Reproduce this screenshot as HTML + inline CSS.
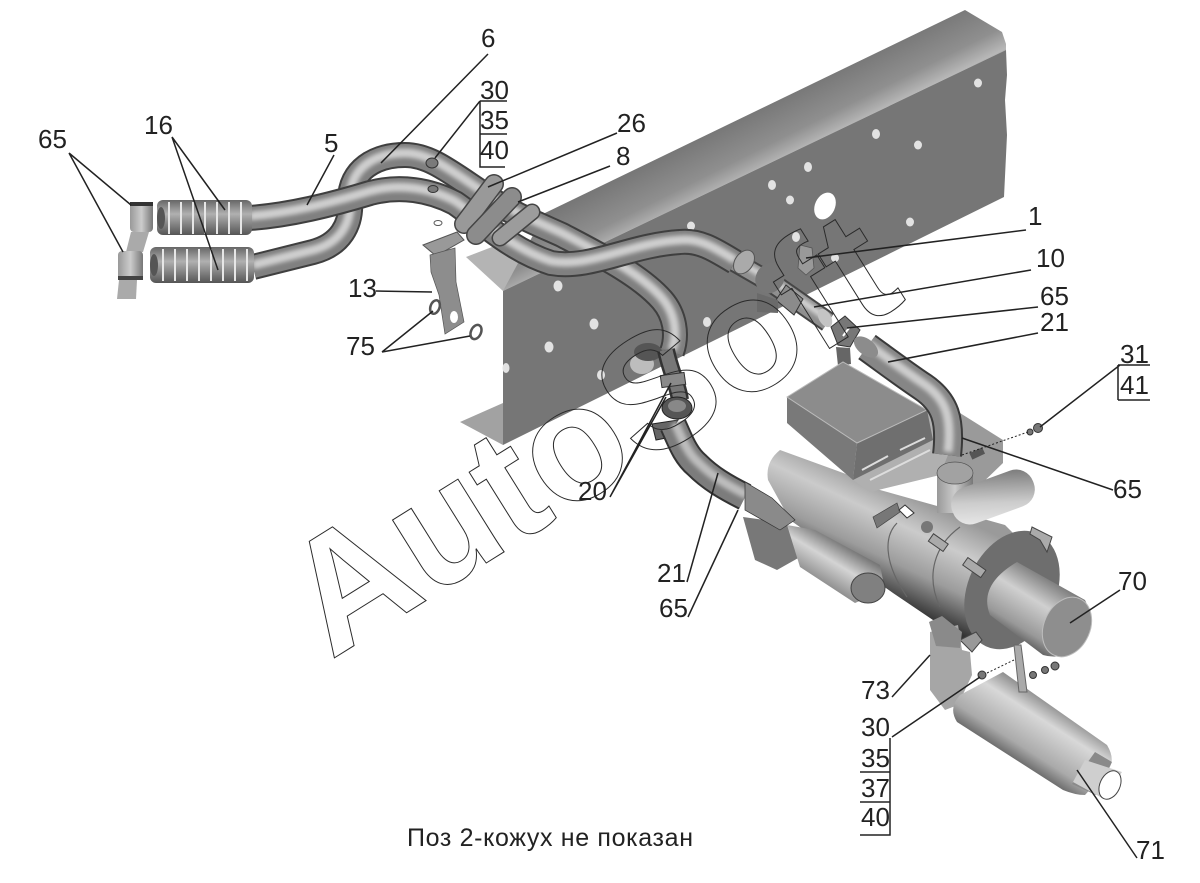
<!DOCTYPE html>
<html><head><meta charset="utf-8"><title>Схема</title>
<style>
html,body{margin:0;padding:0;background:#fff;width:1200px;height:883px;overflow:hidden}
svg{display:block}
.t{font-family:"Liberation Sans",sans-serif;font-size:26px;fill:#222}
.l{stroke:#222;stroke-width:1.5;fill:none}
</style></head><body>
<svg width="1200" height="883" viewBox="0 0 1200 883" xmlns="http://www.w3.org/2000/svg">
<defs>
<filter id="bl" x="-20%" y="-20%" width="140%" height="140%"><feGaussianBlur stdDeviation="2.2"/></filter>
<linearGradient id="fl" gradientUnits="userSpaceOnUse" x1="745" y1="115" x2="775" y2="175"><stop offset="0" stop-color="#777"/><stop offset=".55" stop-color="#8f8f8f"/><stop offset=".85" stop-color="#b8b8b8"/><stop offset="1" stop-color="#808080"/></linearGradient>
<linearGradient id="body" gradientUnits="userSpaceOnUse" x1="880" y1="480" x2="835" y2="575"><stop offset="0" stop-color="#9a9a9a"/><stop offset=".3" stop-color="#cbcbcb"/><stop offset=".65" stop-color="#9c9c9c"/><stop offset=".9" stop-color="#505050"/><stop offset="1" stop-color="#333"/></linearGradient>
<linearGradient id="g70" gradientUnits="userSpaceOnUse" x1="1045" y1="575" x2="1005" y2="640"><stop offset="0" stop-color="#7a7a7a"/><stop offset=".35" stop-color="#d0d0d0"/><stop offset=".75" stop-color="#999"/><stop offset="1" stop-color="#444"/></linearGradient>
<linearGradient id="sil" gradientUnits="userSpaceOnUse" x1="1050" y1="695" x2="1005" y2="765"><stop offset="0" stop-color="#777"/><stop offset=".3" stop-color="#d8d8d8"/><stop offset=".7" stop-color="#aaa"/><stop offset="1" stop-color="#444"/></linearGradient>
<linearGradient id="mot" gradientUnits="userSpaceOnUse" x1="845" y1="545" x2="815" y2="595"><stop offset="0" stop-color="#777"/><stop offset=".35" stop-color="#d4d4d4"/><stop offset=".8" stop-color="#888"/><stop offset="1" stop-color="#333"/></linearGradient>
<linearGradient id="pill" gradientUnits="userSpaceOnUse" x1="1005" y1="470" x2="985" y2="530"><stop offset="0" stop-color="#777"/><stop offset=".55" stop-color="#ccc"/><stop offset="1" stop-color="#eee"/></linearGradient>
<linearGradient id="h" x1="0" y1="0" x2="1" y2="0"><stop offset="0" stop-color="#999"/><stop offset=".5" stop-color="#ccc"/><stop offset="1" stop-color="#777"/></linearGradient>
<linearGradient id="cor1" x1="0" y1="0" x2="0" y2="1"><stop offset="0" stop-color="#666"/><stop offset=".4" stop-color="#b0b0b0"/><stop offset="1" stop-color="#555"/></linearGradient>
<path id="a" d="M253 267L313 252C340 245 352 225 350 200C350 170 375 155 405 155C430 155 450 172 488 197C510 213 540 225 562 235C600 255 640 275 662 300C675 315 678 335 672 352"/>
<path id="b" d="M250 218C290 215 330 205 370 193C400 185 430 190 455 203C480 220 510 250 551 263C590 270 630 245 680 242C700 240 715 250 735 262"/>
<path id="c" d="M867 347C885 360 905 375 923 387C945 402 951 420 947 455"/>
<path id="d" d="M673 425C680 440 685 455 697 465C710 478 725 487 745 497"/>
<path id="e" d="M735 262L775 285L828 322"/>
</defs>
<rect width="1200" height="883" fill="#fff"/>

<!-- frame rail -->
<polygon points="460,422 503,403 503,445" fill="#a2a2a2"/>
<polygon points="466,257 492,247 560,262 503,291" fill="#b4b4b4"/>
<polygon points="965,10 1002,32 1006,44 1006,50 503,291 545,213" fill="url(#fl)"/>
<polygon points="1006,50 1007,75 1005,100 1007,135 1004,197 503,445 503,291" fill="#767676"/>
<g fill="#e2e2e2">
<ellipse cx="978" cy="83" rx="4" ry="4.5"/><ellipse cx="876" cy="134" rx="4" ry="5"/><ellipse cx="918" cy="145" rx="4" ry="4.5"/><ellipse cx="808" cy="167" rx="4" ry="5"/><ellipse cx="772" cy="185" rx="4" ry="5"/><ellipse cx="790" cy="200" rx="4" ry="4.5"/>
<ellipse cx="825" cy="206" rx="10" ry="14" transform="rotate(25 825 206)" fill="#fff"/>
<ellipse cx="691" cy="226" rx="4" ry="4.5"/><ellipse cx="910" cy="222" rx="4" ry="4.5"/><ellipse cx="796" cy="237" rx="4" ry="5"/><ellipse cx="558" cy="286" rx="4.5" ry="5.5"/><ellipse cx="594" cy="324" rx="4.5" ry="5.5"/><ellipse cx="707" cy="322" rx="4" ry="5"/><ellipse cx="549" cy="347" rx="4.5" ry="5.5"/><ellipse cx="601" cy="375" rx="4" ry="5"/><ellipse cx="506" cy="368" rx="3.5" ry="5"/><ellipse cx="835" cy="258" rx="4" ry="4"/>
<ellipse cx="642" cy="364" rx="12" ry="10" fill="#bdbdbd"/>
</g>
<ellipse cx="648" cy="352" rx="14" ry="9" fill="#555"/>

<!-- tubes -->
<g fill="none" stroke-linecap="butt">
<use href="#a" stroke="#3f3f3f" stroke-width="26"/><use href="#a" stroke="#808080" stroke-width="22"/><use href="#a" stroke="#cfcfcf" stroke-width="9" filter="url(#bl)" transform="translate(0,-2)"/>
<use href="#b" stroke="#3f3f3f" stroke-width="26"/><use href="#b" stroke="#808080" stroke-width="22"/><use href="#b" stroke="#cfcfcf" stroke-width="9" filter="url(#bl)" transform="translate(0,-2)"/>
<use href="#e" stroke="#444" stroke-width="21"/><use href="#e" stroke="#8f8f8f" stroke-width="17"/><use href="#e" stroke="#d6d6d6" stroke-width="6" filter="url(#bl)" transform="translate(1,-2)"/>
</g>
<ellipse cx="744" cy="262" rx="9" ry="13" transform="rotate(35 744 262)" fill="#aaa" stroke="#555"/>
<ellipse cx="770" cy="278" rx="14" ry="16" transform="rotate(35 770 278)" fill="#777"/>
<polygon points="786,285 803,299 794,315 776,300" fill="#8b8b8b" stroke="#333"/>
<polygon points="757,293 778,300 778,313 757,312" fill="#6a6a6a"/>
<ellipse cx="825" cy="318" rx="6" ry="10" transform="rotate(-30 825 318)" fill="#c4c4c4"/>
<polygon points="800,245 812,248 814,268 806,275 798,268" fill="#999" stroke="#555" stroke-width=".8"/>
<!-- corrugated -->
<rect x="157" y="200" width="95" height="35" rx="6" fill="url(#cor1)"/>
<rect x="150" y="247" width="104" height="36" rx="6" fill="url(#cor1)"/>
<path d="M168 218H252M162 265H254" stroke="#e6e6e6" stroke-width="32" stroke-dasharray="2 10" fill="none"/>
<ellipse cx="161" cy="218" rx="4" ry="11" fill="#555"/><ellipse cx="154" cy="265" rx="4" ry="11" fill="#555"/>
<!-- left clamps -->
<polygon points="131,232 149,232 143,252 126,252" fill="#aaa"/>
<polygon points="119,280 137,280 136,299 117,299" fill="#aaa"/>
<rect x="130" y="202" width="23" height="30" rx="4" fill="url(#h)"/><rect x="130" y="202" width="23" height="4" fill="#333"/>
<rect x="118" y="251" width="25" height="29" rx="4" fill="url(#h)"/><rect x="118" y="276" width="25" height="4" fill="#444"/>
<!-- bracket 13 -->
<polygon points="423,245 457,232 464,240 436,256" fill="#999" stroke="#555"/>
<polygon points="430,255 455,248 456,282 464,322 445,334 439,295 431,272" fill="#8d8d8d" stroke="#555" stroke-width=".7"/>
<ellipse cx="454" cy="317" rx="4" ry="6" fill="#fff"/>
<ellipse cx="438" cy="223" rx="4" ry="2.5" fill="#fff" stroke="#555"/>
<ellipse cx="435" cy="307" rx="4.5" ry="7" transform="rotate(20 435 307)" fill="#fff" stroke="#555" stroke-width="2.5"/>
<ellipse cx="476" cy="332" rx="5" ry="7.5" transform="rotate(25 476 332)" fill="#fff" stroke="#555" stroke-width="2.5"/>
<!-- bands -->
<g fill="none" stroke-linecap="round">
<path d="M464 224L494 184" stroke="#444" stroke-width="20"/><path d="M464 224L494 184" stroke="#999" stroke-width="17"/>
<path d="M476 235L512 197" stroke="#444" stroke-width="20"/><path d="M476 235L512 197" stroke="#8c8c8c" stroke-width="17"/>
<path d="M500 238L532 212" stroke="#444" stroke-width="17"/><path d="M500 238L532 212" stroke="#9c9c9c" stroke-width="14"/>
</g>
<ellipse cx="432" cy="163" rx="6" ry="5" fill="#7a7a7a" stroke="#333"/>
<ellipse cx="433" cy="189" rx="5" ry="3.5" fill="#7a7a7a" stroke="#333"/>
<!-- clip 65 right -->
<polygon points="831,327 845,316 860,330 850,347 838,345" fill="#777" stroke="#333"/>
<polygon points="836,347 850,348 851,364 838,366" fill="#666"/>
<path d="M843 336L849 328" stroke="#fff" stroke-width="2"/>
<!-- A lower part -->
<path d="M666 350C670 370 678 385 680 400" stroke="#333" stroke-width="18" fill="none"/>
<path d="M666 350C670 370 678 385 680 400" stroke="#777" stroke-width="13" fill="none"/>
<rect x="661" y="374" width="24" height="12" transform="rotate(-8 673 380)" fill="#8a8a8a" stroke="#333"/>
<polygon points="652,424 678,420 666,438 656,440" fill="#666" stroke="#222"/>
<!-- lower tube -->
<g fill="none">
<use href="#d" stroke="#333" stroke-width="28"/><use href="#d" stroke="#7c7c7c" stroke-width="24"/><use href="#d" stroke="#bdbdbd" stroke-width="9" filter="url(#bl)" transform="translate(2,-2)"/>
</g>
<ellipse cx="677" cy="408" rx="15" ry="11" fill="#555" stroke="#222"/>
<ellipse cx="677" cy="406" rx="9" ry="6" fill="#888"/>
<!-- rear plate -->
<polygon points="960,413 1003,440 1003,463 975,490 940,480 940,425" fill="#9a9a9a"/>
<!-- mounting bracket + motor -->
<polygon points="743,517 787,523 800,557 777,570 755,560" fill="#787878"/>
<!-- body -->
<path d="M780 450Q765 462 768 480L790 520L893 593L967 643L1000 625L1040 560L1005 525L880 490L857 478Z" fill="url(#body)"/>
<polygon points="787,525 800,567 855,603 885,590 880,565 815,530" fill="url(#mot)"/>
<ellipse cx="868" cy="588" rx="17" ry="15" fill="#808080" stroke="#444"/>
<polygon points="745,482 772,498 795,520 780,530 745,510" fill="#8a8a8a" stroke="#333" stroke-width=".7"/>
<path d="M897 523C885 535 882 560 907 597M960 527C935 545 925 575 940 607" fill="none" stroke="#666" stroke-width="1.2"/>
<!-- flange -->
<ellipse cx="1012" cy="590" rx="44" ry="62" transform="rotate(25 1012 590)" fill="#6e6e6e"/>
<!-- box -->
<polygon points="857,443 927,410 950,450 940,475 870,492 853,480" fill="#b0b0b0"/>
<polygon points="787,397 857,443 853,480 787,423" fill="#797979"/>
<polygon points="857,443 927,410 933,440 853,480" fill="#6f6f6f"/>
<polygon points="787,397 843,362 927,410 857,443" fill="#8c8c8c" stroke="#bbb"/>
<path d="M862 470L888 456M900 450L925 438M870 480L930 450" stroke="#ddd" stroke-width="2" fill="none"/>
<!-- upper tube -->
<g fill="none">
<use href="#c" stroke="#3a3a3a" stroke-width="30"/><use href="#c" stroke="#868686" stroke-width="26"/><use href="#c" stroke="#cdcdcd" stroke-width="9" filter="url(#bl)" transform="translate(1,-3)"/>
</g>
<ellipse cx="866" cy="347" rx="8" ry="14" transform="rotate(-52 866 347)" fill="#8c8c8c"/>
<!-- top fitting and pill -->
<rect x="937" y="473" width="36" height="40" fill="url(#h)"/>
<ellipse cx="955" cy="473" rx="18" ry="11" fill="#a2a2a2" stroke="#555" stroke-width=".7"/>
<rect x="950" y="478" width="86" height="38" rx="18" transform="rotate(-20 993 497)" fill="url(#pill)"/>
<!-- cylinder 70 -->
<path d="M1017 562L1085 600Q1098 625 1075 650Q1060 660 1043 655L990 615Q978 585 1017 562Z" fill="url(#g70)"/>
<ellipse cx="1067" cy="627" rx="23" ry="31" transform="rotate(25 1067 627)" fill="#8e8e8e" stroke="#bdbdbd"/>
<!-- small heater parts -->
<polygon points="873,517 897,503 900,512 877,528" fill="#777" stroke="#444" stroke-width=".7"/>
<polygon points="899,510 905,505 914,513 907,518" fill="#fff" stroke="#333"/>
<circle cx="927" cy="527" r="6" fill="#777"/>
<rect x="929" y="538" width="18" height="9" transform="rotate(35 938 543)" fill="#aaa" stroke="#444"/>
<rect x="963" y="563" width="22" height="9" transform="rotate(35 974 568)" fill="#aaa" stroke="#444"/>
<polygon points="1032,527 1052,537 1047,552 1040,540 1030,534" fill="#aaa" stroke="#444"/>
<polygon points="960,640 976,632 982,640 972,652" fill="#999" stroke="#444"/>
<rect x="970" y="450" width="14" height="7" transform="rotate(-25 977 453)" fill="#555"/>
<!-- exhaust -->
<polygon points="930,632 958,625 962,650 970,652 972,675 958,705 945,710 930,690" fill="#a6a6a6"/>
<polygon points="929,622 942,616 962,632 960,648 936,646" fill="#8a8a8a"/>
<path d="M960 695L1003 672L1107 745Q1116 760 1108 770L1085 795Q1075 795 1063 790L957 722Q948 708 960 695Z" fill="url(#sil)"/>
<polygon points="1095,752 1112,762 1096,795 1072,784" fill="#8a8a8a"/>
<polygon points="1085,760 1122,772 1104,799 1073,782" fill="#cfcfcf"/>
<ellipse cx="1110" cy="785" rx="10" ry="15" transform="rotate(25 1110 785)" fill="#fff" stroke="#444"/>
<polygon points="1014,645 1021,645 1027,692 1019,692" fill="#aaa" stroke="#666"/>
<g fill="#777" stroke="#333"><circle cx="982" cy="675" r="4"/><circle cx="1033" cy="675" r="3.5"/><circle cx="1045" cy="670" r="3.5"/><circle cx="1055" cy="666" r="4"/><circle cx="1038" cy="428" r="4.5"/><circle cx="1030" cy="432" r="3"/></g>
<path d="M987 673L1014 660M962 455L1028 432" stroke="#222" stroke-dasharray="2 2" fill="none"/>

<!-- watermark -->
<text x="331" y="660" transform="rotate(-32 331 660)" textLength="680" lengthAdjust="spacingAndGlyphs" font-family="Liberation Sans, sans-serif" font-weight="700" font-size="163" fill="none" stroke="#2a2a2a" stroke-width="1">AutoSoft</text>

<!-- leaders -->
<g class="l">
<path d="M69 153L131 205M69 153L123 252"/>
<path d="M172 137L225 210M172 137L218 270"/>
<path d="M488 54L381 163"/>
<path d="M334 155L307 205"/>
<path d="M480 101L435 158"/>
<path d="M480 101V167H505M480 101H507M480 134H507"/>
<path d="M617 133L488 187"/>
<path d="M610 166L518 202"/>
<path d="M1026 230L806 258"/>
<path d="M1031 270L814 307"/>
<path d="M1038 307L847 328"/>
<path d="M1038 333L888 362"/>
<path d="M376 291L432 292"/>
<path d="M382 352L433 311M382 352L470 336"/>
<path d="M610 497L671 383M610 497L666 397"/>
<path d="M687 582L718 473"/>
<path d="M688 617L738 510"/>
<path d="M1120 365L1040 427M1118 365H1150M1118 400H1150M1118 365V400"/>
<path d="M1113 490L962 438"/>
<path d="M1120 590L1070 623"/>
<path d="M892 697L930 655"/>
<path d="M892 737L980 677M890 738V835H860M860 772H890M860 802H890"/>
<path d="M1137 858L1077 770"/>
</g>

<!-- labels -->
<g class="t">
<text x="38" y="148">65</text>
<text x="144" y="134">16</text>
<text x="481" y="47">6</text>
<text x="324" y="152">5</text>
<text x="480" y="99">30</text><text x="480" y="129">35</text><text x="480" y="159">40</text>
<text x="617" y="132">26</text>
<text x="616" y="165">8</text>
<text x="1028" y="225">1</text>
<text x="1036" y="267">10</text>
<text x="1040" y="305">65</text>
<text x="1040" y="331">21</text>
<text x="348" y="297">13</text>
<text x="346" y="355">75</text>
<text x="1120" y="363">31</text><text x="1120" y="394">41</text>
<text x="1113" y="498">65</text>
<text x="578" y="500">20</text>
<text x="657" y="582">21</text>
<text x="659" y="617">65</text>
<text x="1118" y="590">70</text>
<text x="861" y="699">73</text>
<text x="861" y="736">30</text><text x="861" y="767">35</text><text x="861" y="797">37</text><text x="861" y="826">40</text>
<text x="1136" y="859">71</text>
<text x="407" y="846" textLength="286" lengthAdjust="spacing" style="font-size:25px">Поз 2-кожух не показан</text>
</g>
</svg>
</body></html>
